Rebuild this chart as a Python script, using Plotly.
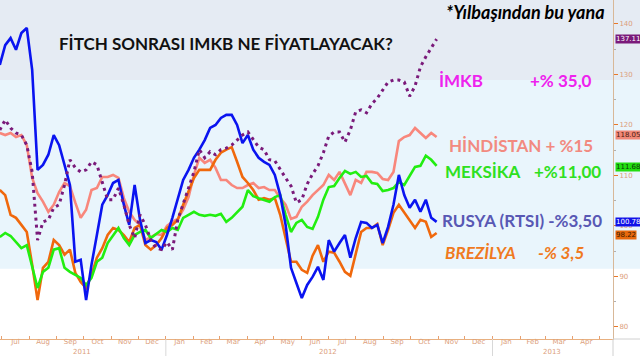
import pandas as pd
import plotly.graph_objects as go

# ---------------- data ----------------
start_date = "2011-06-29"
n_points = 82
dates = pd.date_range(start_date, periods=n_points, freq="145h")

rusya = [131.9, 135.8, 137.2, 134.9, 138.2, 139.2, 130.9, 111.1, 112.1, 114.1,
         118.0, 116.0, 112.1, 108.1, 92.9, 93.3, 85.3, 92.3, 98.2, 104.2,
         106.1, 108.5, 109.1, 104.2, 100.2, 108.1, 101.2, 96.6, 97.2, 96.8,
         95.3, 98.2, 101.6, 105.5, 109.1, 111.1, 113.5, 115.1, 117.0, 119.4,
         120.0, 121.4, 122.0, 122.0, 120.0, 116.4, 118.0, 115.1, 113.5, 112.7,
         112.1, 110.1, 106.1, 100.2, 91.7, 88.7, 85.7, 88.3, 89.9, 91.9,
         89.3, 97.2, 94.9, 96.6, 98.2, 93.7, 97.6, 100.8, 100.6, 99.6,
         100.2, 96.6, 99.8, 104.2, 110.1, 106.1, 103.6, 105.2, 102.8, 105.2,
         101.6, 100.8]

brezilya = [107.1, 106.1, 102.2, 101.6, 100.2, 98.8, 92.3, 85.3, 91.7, 92.9,
            97.2, 96.2, 94.3, 95.3, 90.7, 88.9, 87.7, 90.3, 93.7, 95.6,
            98.2, 99.6, 99.2, 98.2, 96.8, 99.6, 100.2, 96.2, 95.3, 96.2,
            97.6, 99.6, 100.2, 101.2, 104.2, 106.7, 109.5, 111.1, 111.1, 111.1,
            113.1, 114.5, 115.1, 115.6, 112.7, 109.7, 108.5, 107.1, 105.2, 105.5,
            105.2, 105.5, 102.2, 97.2, 92.9, 92.9, 91.3, 90.7, 94.1, 96.2,
            92.9, 94.9, 94.7, 92.9, 90.9, 90.1, 94.3, 98.8, 99.6, 99.6,
            100.4, 96.2, 99.2, 102.6, 104.2, 102.6, 101.2, 99.6, 101.2, 100.8,
            97.8, 98.6]

meksika = [97.8, 98.6, 98.0, 96.8, 95.6, 96.2, 91.7, 87.7, 90.9, 91.7,
           95.3, 95.6, 91.7, 90.9, 90.3, 89.7, 88.3, 89.7, 92.9, 93.7,
           96.6, 98.2, 99.6, 97.6, 96.2, 98.2, 98.8, 99.2, 97.6, 98.4,
           99.2, 98.8, 99.6, 99.2, 101.6, 102.2, 102.8, 102.2, 102.0, 102.2,
           102.0, 102.4, 100.8, 101.6, 102.6, 103.8, 107.1, 105.9, 105.5, 105.2,
           104.8, 105.7, 106.1, 102.2, 98.8, 100.6, 101.2, 99.8, 99.4, 101.8,
           105.2, 107.7, 107.9, 109.5, 110.9, 110.3, 110.7, 109.7, 109.9, 108.5,
           108.3, 106.9, 107.1, 107.5, 108.7, 108.1, 109.9, 111.7, 111.9, 113.9,
           113.1, 111.9]

hindistan = [118.4, 118.0, 118.4, 117.6, 118.0, 116.0, 109.5, 106.5, 104.8, 102.8,
             104.2, 106.7, 108.5, 107.9, 104.6, 101.6, 103.2, 107.1, 107.5, 109.7,
             109.7, 110.1, 109.5, 105.5, 102.8, 101.2, 100.2, 97.2, 97.8, 98.4,
             98.2, 100.0, 100.8, 101.4, 103.2, 105.7, 110.1, 113.5, 112.5, 113.1,
             111.5, 109.1, 109.1, 108.1, 107.5, 107.5, 108.1, 108.5, 107.5, 107.7,
             107.1, 107.1, 105.5, 104.2, 101.4, 101.8, 103.8, 104.8, 106.1, 107.1,
             108.1, 110.1, 109.1, 110.7, 108.5, 106.1, 109.1, 108.5, 110.7, 110.7,
             110.5, 109.3, 109.1, 110.7, 116.8, 117.6, 118.0, 119.4, 118.4, 117.4,
             118.4, 117.6]

imkb = [119.0, 121.0, 119.4, 118.4, 118.0, 116.0, 110.7, 97.2, 100.8, 101.2,
        103.6, 104.2, 108.1, 113.1, 111.5, 110.7, 111.1, 112.7, 112.1, 108.7,
        105.2, 105.2, 107.5, 104.2, 100.2, 97.6, 102.2, 100.2, 97.2, 95.6,
        95.3, 96.8, 95.3, 101.2, 104.2, 107.5, 110.7, 115.1, 113.5, 114.7,
        114.1, 115.1, 115.4, 116.0, 117.0, 118.0, 118.6, 117.0, 115.6, 115.1,
        113.1, 112.9, 111.1, 109.5, 107.9, 104.6, 105.2, 108.3, 110.3, 111.9,
        114.5, 117.8, 118.6, 118.6, 116.6, 119.0, 122.6, 123.0, 122.4, 124.2,
        125.3, 126.9, 128.5, 128.9, 128.9, 128.5, 125.7, 127.7, 131.5, 133.5,
        135.4, 137.0]

tag_values = [137.11, 118.05, 111.68, 100.78, 98.22]
tag_texts = ["137.11", "118.05", "111.68", "100.78", "98.22"]
band_edges = [91.5, 128.9]
year_labels = ["2011", "2012", "2013"]
year_centers = ["2011-09-29", "2012-07-01", "2013-03-09"]
year_breaks = ["2012-01-01", "2013-01-01"]

# ---------------- styling ----------------
W, H = 640, 356
ML, MR, MT, MB = 0, 27, 0, 17
PW, PH = W - ML - MR, H - MT - MB
x_range = ["2011-06-29 05:00", "2013-05-16"]
y_range = [77.6, 144.75]

C_BLUE = "#0a14f0"
C_ORANGE = "#f0680c"
C_GREEN = "#22ee10"
C_SALMON = "#f8877c"
C_PURPLE = "#7a1a7a"
FONT = "Lato"
AX_TXT = "#dca07c"


def px2x(px):
    return (px - ML) / PW


def px2y(py):
    return (MT + PH - py) / PH


def v2y(v):
    return (v - y_range[0]) / (y_range[1] - y_range[0])


fig = go.Figure()
series = [
    (hindistan, C_SALMON, 2.6, "solid"),
    (brezilya, C_ORANGE, 2.6, "solid"),
    (meksika, C_GREEN, 2.6, "solid"),
    (rusya, C_BLUE, 2.6, "solid"),
    (imkb, C_PURPLE, 3, "3px,4px"),
]
for vals, col, w, dash in series:
    fig.add_trace(go.Scatter(x=dates, y=vals, mode="lines",
                             line=dict(color=col, width=w, dash=dash),
                             showlegend=False, hoverinfo="skip"))

shapes = []
xr = W / PW
# background bands
shapes.append(dict(type="rect", xref="paper", yref="paper", x0=0, x1=xr,
                   y0=v2y(band_edges[1]), y1=1, fillcolor="#e5ebf3",
                   line_width=0, layer="below"))
shapes.append(dict(type="rect", xref="paper", yref="paper", x0=0, x1=xr,
                   y0=v2y(band_edges[0]), y1=v2y(band_edges[1]),
                   fillcolor="#e9f5fc", line_width=0, layer="below"))
# bottom axis area lines
for yb in year_breaks:
    shapes.append(dict(type="line", xref="x", yref="paper", x0=yb, x1=yb,
                       y0=0, y1=-MB / PH, line=dict(color="#d8d8d8", width=1)))
shapes.append(dict(type="line", xref="paper", yref="paper", x0=1, x1=1,
                   y0=0, y1=-MB / PH, line=dict(color="#d0d0d0", width=1)))
shapes.append(dict(type="line", xref="paper", yref="paper", x0=1, x1=xr,
                   y0=0, y1=0, line=dict(color="#d0d0d0", width=1)))

ann = []
ann.append(dict(text="<b><i>*Yılbaşından bu yana</i></b>", x=px2x(607), y=px2y(12),
                xanchor="right", yanchor="middle", font=dict(family=FONT, size=18, color="#000000")))
ann.append(dict(text="<b>FİTCH SONRASI IMKB NE FİYATLAYACAK?</b>", x=px2x(57), y=px2y(43),
                xanchor="left", yanchor="middle", font=dict(family=FONT, size=17, color="#111111")))
labels = [
    ("<b>İMKB</b>", 437, 80, "#ee22ee", "left"),
    ("<b>+% 35,0</b>", 528, 80, "#ee22ee", "left"),
    ("<b>HİNDİSTAN + %15</b>", 447, 145, "#f28a80", "left"),
    ("<b>MEKSİKA</b>", 443, 171, "#2ee020", "left"),
    ("<b>+%11,00</b>", 532, 171, "#2ee020", "left"),
    ("<b>RUSYA (RTSI) -%3,50</b>", 440, 220, "#5858b4", "left"),
    ("<b><i>BREZİLYA</i></b>", 443, 252, "#f07a1e", "left"),
    ("<b><i>-% 3,5</i></b>", 536, 252, "#f07a1e", "left"),
]
for t, x, y, c, a in labels:
    ann.append(dict(text=t, x=px2x(x), y=px2y(y), xanchor=a, yanchor="middle",
                    font=dict(family=FONT, size=17, color=c)))

tag_bg = [C_PURPLE, "#f08878", "#22dd10", "#1010e8", "#e8680c"]
tag_fg = ["#ffffff", "#4a1a10", "#0a3a0a", "#ffffff", "#3a1a00"]
for v, t, bg, fg in zip(tag_values, tag_texts, tag_bg, tag_fg):
    ann.append(dict(text=t, xref="paper", yref="y", x=px2x(615), y=v,
                    xanchor="left", yanchor="middle", bgcolor=bg, borderpad=0,
                    font=dict(family="DejaVu Sans", size=7, color=fg)))

for lab, xc in zip(year_labels, year_centers):
    ann.append(dict(text=lab, xref="x", yref="paper", x=xc, y=px2y(351.5),
                    xanchor="center", yanchor="middle",
                    font=dict(family="DejaVu Sans", size=7, color=AX_TXT)))

for a in ann:
    a.setdefault("xref", "paper")
    a.setdefault("yref", "paper")
    a["showarrow"] = False

fig.update_layout(
    width=W, height=H,
    margin=dict(l=ML, r=MR, t=MT, b=MB, pad=0),
    paper_bgcolor="#ffffff", plot_bgcolor="rgba(0,0,0,0)",
    shapes=shapes, annotations=ann,
    xaxis=dict(type="date", range=x_range, showgrid=False, zeroline=False,
               dtick="M1", tickformat="%b", ticklabelmode="period",
               ticklabeloverflow="hide past domain", ticklabelstandoff=-4,
               ticks="inside", ticklen=3, tickcolor="#e8a070",
               tickfont=dict(family="DejaVu Sans", size=7, color=AX_TXT),
               showline=True, linecolor="#e8b080", linewidth=1),
    yaxis=dict(side="right", range=y_range, dtick=10, tick0=0,
               showgrid=False, zeroline=False,
               ticks="outside", ticklen=4, tickcolor="#e8782a", tickwidth=1,
               tickfont=dict(family="DejaVu Sans", size=7, color=AX_TXT),
               showline=True, linecolor="#d8b898", linewidth=1,
               minor=dict(dtick=5, ticks="outside", ticklen=2, tickcolor="#b0b0b0")),
)

fig.write_html("out.html")
